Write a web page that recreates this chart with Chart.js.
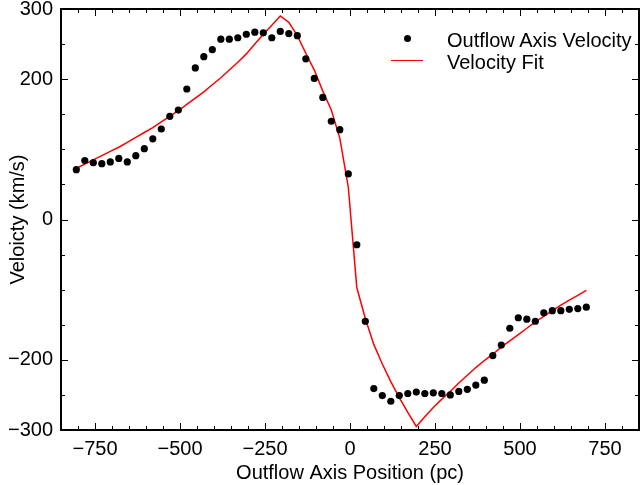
<!DOCTYPE html>
<html>
<head>
<meta charset="utf-8">
<script src="https://cdn.jsdelivr.net/npm/chart.js@4.4.0/dist/chart.umd.min.js"></script>
<style>
  body { margin: 0; background: #fff; }
  #wrap { position: relative; width: 643px; height: 485px; }
  #legend { position: absolute; left: 0; top: 0; font: 20px "Liberation Sans", Arial, sans-serif; color: #000; }
  #legend .label { position: absolute; left: 447px; line-height: 22px; white-space: nowrap; }
  #legend .dot { position: absolute; width: 7px; height: 7px; border-radius: 50%; background: #000; }
  #legend .line { position: absolute; width: 32px; height: 1.5px; background: #ff0000; }
</style>
</head>
<body>
<div id="wrap">
  <canvas id="chart" width="643" height="485"></canvas>
  <div id="legend"></div>
</div>
<script>
// position along the outflow axis (pc)
const positions = [
  -805, -780, -755, -730, -705, -680, -655, -630, -605, -580,
  -555, -530, -505, -480, -455, -430, -405, -380, -355, -330,
  -305, -280, -255, -230, -205, -180, -155, -130, -105, -80,
  -55, -30, -5, 20, 45, 70, 95, 120, 145, 170,
  195, 220, 245, 270, 295, 320, 345, 370, 395, 420,
  445, 470, 495, 520, 545, 570, 595, 620, 645, 670,
  695
];

// measured velocity (km/s)
const velocity = [
  71, 84, 81, 79.5, 82, 87, 82, 91, 101, 115,
  129, 147, 156, 186, 216, 232, 242, 257, 257, 259,
  264, 267, 266, 259, 268, 265, 262, 229, 201, 174,
  140, 128, 65, -36, -145, -241, -251, -259, -251, -248,
  -246, -248, -247, -248, -250, -245, -242, -236, -229, -194,
  -179, -155, -140, -142, -145, -133, -130, -130, -128, -127,
  -125
];

// model fit (km/s)
const fitVelocity = [
  73, 79, 85, 91, 97, 103, 110, 117, 124, 131,
  139, 147, 155, 164, 173, 182, 192, 202, 213, 224,
  236, 250, 264, 277, 290, 281, 262, 237, 213, 183,
  156, 116, 46, -97, -141, -178, -206, -231, -254, -275,
  -295, -281, -268, -256, -245, -233, -222, -211, -201, -192,
  -182, -173, -164, -155, -146, -138, -130, -122, -115, -108,
  -101
];

const xTicks = [-750, -500, -250, 0, 250, 500, 750];
const yTicks = [-300, -200, 0, 200, 300];

const FONT = '"Liberation Sans", Arial, sans-serif';
Chart.defaults.font.family = FONT;
Chart.defaults.font.size = 20;
Chart.defaults.color = '#000';

function fmt(v) {
  return v < 0 ? '\u2212' + Math.abs(v) : String(v);
}

// frame + inward ticks, like the matplotlib style of the original
const frameTicks = {
  id: 'frameTicks',
  afterDatasetsDraw(chart) {
    const { ctx, chartArea: a, scales: { x, y } } = chart;
    ctx.save();
    ctx.strokeStyle = '#000';
    ctx.lineWidth = 1;
    ctx.beginPath();
    for (let v = x.min; v <= x.max; v += 50) {
      const px = Math.round(x.getPixelForValue(v)) + 0.5;
      const len = xTicks.includes(v) ? 7 : 4;
      ctx.moveTo(px, a.bottom); ctx.lineTo(px, a.bottom - len);
      ctx.moveTo(px, a.top); ctx.lineTo(px, a.top + len);
    }
    for (let v = y.min; v <= y.max; v += 50) {
      const py = Math.round(y.getPixelForValue(v)) + 0.5;
      const len = yTicks.includes(v) ? 7 : 4;
      ctx.moveTo(a.left, py); ctx.lineTo(a.left + len, py);
      ctx.moveTo(a.right, py); ctx.lineTo(a.right - len, py);
    }
    ctx.stroke();
    ctx.lineWidth = 2;
    ctx.strokeRect(a.left, a.top, a.right - a.left, a.bottom - a.top);
    ctx.restore();
  }
};

const chart = new Chart(document.getElementById('chart'), {
  type: 'scatter',
  data: {
    datasets: [
      {
        label: 'Outflow Axis Velocity',
        data: positions.map((x, i) => ({ x: x, y: velocity[i] })),
        pointRadius: 3.6,
        pointBackgroundColor: '#000',
        pointBorderWidth: 0,
        showLine: false
      },
      {
        label: 'Velocity Fit',
        data: positions.map((x, i) => ({ x: x, y: fitVelocity[i] })),
        showLine: true,
        borderColor: '#ff0000',
        borderWidth: 1.5,
        pointRadius: 0,
        tension: 0,
        fill: false
      }
    ]
  },
  options: {
    responsive: false,
    animation: false,
    devicePixelRatio: 1,
    layout: { padding: { top: 9, right: 1, left: 0, bottom: 0 } },
    plugins: {
      legend: { display: false },
      tooltip: { enabled: false }
    },
    scales: {
      x: {
        type: 'linear',
        min: -850,
        max: 850,
        afterBuildTicks: s => { s.ticks = xTicks.map(v => ({ value: v })); },
        afterFit: s => { s.height = 55; },
        grid: { display: false, drawTicks: false },
        border: { display: false },
        ticks: { padding: 7, maxRotation: 0, autoSkip: false, callback: v => fmt(v) },
        title: { display: true, text: 'Outflow Axis Position (pc)', padding: { top: 0, bottom: 0 } }
      },
      y: {
        type: 'linear',
        min: -300,
        max: 300,
        afterBuildTicks: s => { s.ticks = yTicks.map(v => ({ value: v })); },
        afterFit: s => { s.width = 61; },
        grid: { display: false, drawTicks: false },
        border: { display: false },
        // tiny lineHeight so the end labels don't push the plot area down
        ticks: { padding: 8, font: { size: 20, lineHeight: 0.05 }, autoSkip: false, callback: v => fmt(v) },
        title: { display: true, text: 'Veloicty (km/s)', padding: { top: 6, bottom: 0 } }
      }
    }
  },
  plugins: [frameTicks]
});

// legend drawn as html text over the plot, from the chart's datasets
const legend = document.getElementById('legend');
chart.data.datasets.forEach((ds, i) => {
  const top = 28.7 + 22 * i;
  const mark = document.createElement('div');
  if (ds.showLine) {
    mark.className = 'line';
    mark.style.left = '391px';
    mark.style.top = (top + 10 - 0.75) + 'px';
  } else {
    mark.className = 'dot';
    mark.style.left = '403.5px';
    mark.style.top = (top + 10 - 3.5) + 'px';
  }
  legend.appendChild(mark);
  const label = document.createElement('div');
  label.className = 'label';
  label.style.top = top + 'px';
  label.textContent = ds.label;
  legend.appendChild(label);
});
</script>
</body>
</html>
